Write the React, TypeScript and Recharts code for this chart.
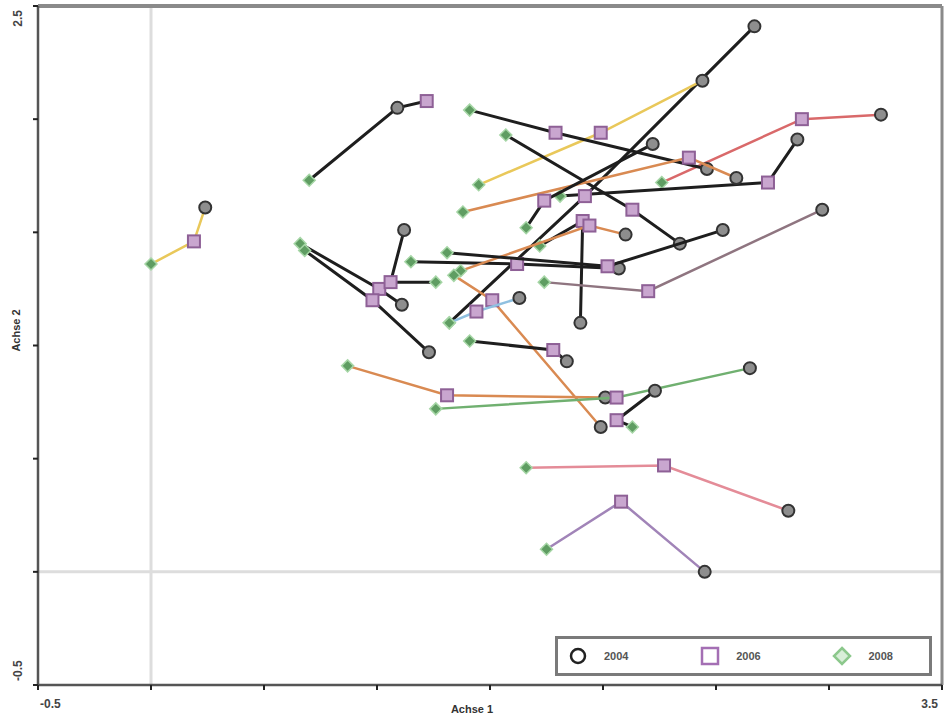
import React from 'react';
import { ScatterChart, Scatter, XAxis, YAxis, ReferenceLine } from 'recharts';

// Trajectories of objects: position in 2004, 2006 and 2008
const lineColors = [
  '#e9c85a', '#1e1e1e', '#d9696a', '#1e1e1e', '#1e1e1e', '#e9c85a', '#1e1e1e', '#1e1e1e',
  '#d98a52', '#1e1e1e', '#1e1e1e', '#1e1e1e', '#1e1e1e', '#1e1e1e', '#1e1e1e', '#8f7580',
  '#d98a52', '#1e1e1e', '#d98a52', '#1e1e1e', '#d98a52', '#70b070', '#1e1e1e', '#e48c98',
  '#a184b8', '#8fc0e0',
];
const x2004 = [0.24, 1.09, 3.23, 2.86, 2.67, 2.44, 2.46, 2.34, 2.59, 2.22, 1.11, 1.23, 1.12, 2.07, 1.90, 2.97, 2.10, 2.53, 1.99, 1.84, 2.01, 2.65, 2.23, 2.82, 2.45, 1.63];
const y2004 = [1.61, 2.05, 2.02, 1.91, 2.41, 2.17, 1.78, 1.45, 1.74, 1.89, 1.18, 0.97, 1.51, 1.34, 1.10, 1.60, 1.49, 1.51, 0.64, 0.93, 0.77, 0.90, 0.80, 0.27, 0.00, 1.21];
const x2006 = [0.19, 1.22, 2.88, 2.73, 1.92, 1.99, 1.79, 2.13, 2.38, 1.74, 1.01, 0.98, 1.06, 1.62, 1.91, 2.20, 1.94, 2.02, 1.51, 1.78, 1.31, 2.06, 2.06, 2.27, 2.08, 1.44];
const y2006 = [1.46, 2.08, 2.00, 1.72, 1.66, 1.94, 1.94, 1.60, 1.83, 1.64, 1.25, 1.20, 1.28, 1.36, 1.55, 1.24, 1.53, 1.35, 1.20, 0.98, 0.78, 0.77, 0.67, 0.47, 0.31, 1.15];
const x2008 = [0.00, 0.70, 2.26, 1.81, 1.32, 1.45, 1.41, 1.57, 1.38, 1.66, 0.66, 0.68, 1.26, 1.15, 1.72, 1.74, 1.37, 1.31, 1.34, 1.41, 0.87, 1.26, 2.13, 1.66, 1.75, 1.32];
const y2008 = [1.36, 1.73, 1.72, 1.66, 1.10, 1.71, 2.04, 1.93, 1.59, 1.52, 1.45, 1.42, 1.28, 1.37, 1.44, 1.28, 1.33, 1.41, 1.31, 1.02, 0.91, 0.72, 0.64, 0.46, 0.10, 1.10];
// order in which the line joins the three years
const pathOrder = [
  'CSG', 'GCS', 'CSG', 'CSG', 'CSG', 'CSG', 'CSG', 'CSG', 'CSG', 'CSG', 'CSG', 'CSG', 'CSG',
  'CSG', 'CSG', 'CSG', 'CSG', 'CSG', 'CSG', 'CSG', 'CSG', 'CSG', 'CSG', 'CSG', 'CSG', 'CSG',
];
const legendYears = ['2004', '2006', '2008'];
const xTicks = [-0.5, 0, 0.5, 1, 1.5, 2, 2.5, 3, 3.5];
const yTicks = [-0.5, 0, 0.5, 1, 1.5, 2, 2.5];
const xTitle = 'Achse 1';
const yTitle = 'Achse 2';

type Pt = { x: number; y: number; year: number };

const trajectories = lineColors.map((color, i) => {
  const pts: Record<string, Pt> = {
    C: { x: x2004[i], y: y2004[i], year: 2004 },
    S: { x: x2006[i], y: y2006[i], year: 2006 },
    G: { x: x2008[i], y: y2008[i], year: 2008 },
  };
  return { color, data: pathOrder[i].split('').map((k) => pts[k]) };
});

const FONT = '"Liberation Sans", Arial, sans-serif';

const Marker = (props: any) => {
  const { cx, cy, payload } = props;
  if (cx == null || cy == null) return null;
  if (payload.year === 2004) {
    return <circle cx={cx} cy={cy} r={6} fill="#8e8e8e" stroke="#333" strokeWidth={2} />;
  }
  if (payload.year === 2006) {
    return <rect x={cx - 6} y={cy - 6} width={12} height={12} fill="#c9a6cf" stroke="#8e6096" strokeWidth={2} />;
  }
  return (
    <polygon
      points={`${cx},${cy - 6} ${cx + 6},${cy} ${cx},${cy + 6} ${cx - 6},${cy}`}
      fill="#5f9d62"
      stroke="#a6d6a6"
      strokeWidth={1.5}
    />
  );
};

const XTick = (props: any) => {
  const { x, payload, index } = props;
  const v = payload.value;
  if (v !== -0.5 && v !== 3.5) return null;
  const anchor = index === 0 ? 'start' : 'end';
  const tx = index === 0 ? x + 2 : x - 4;
  return (
    <text x={tx} y={708} textAnchor={anchor} fontFamily={FONT} fontWeight="bold" fontSize={12} fill="#444">
      {String(v)}
    </text>
  );
};

const YTick = (props: any) => {
  const { y, payload, index } = props;
  const v = payload.value;
  if (v !== -0.5 && v !== 2.5) return null;
  const ty = index === 0 ? y - 4 : y + 4;
  const anchor = index === 0 ? 'start' : 'end';
  return (
    <text
      x={22}
      y={ty}
      transform={`rotate(-90, 22, ${ty})`}
      textAnchor={anchor}
      fontFamily={FONT}
      fontWeight="bold"
      fontSize={12}
      fill="#444"
    >
      {String(v)}
    </text>
  );
};

const XTitle = (props: any) => {
  const vb = props.viewBox || {};
  const cx = vb.x + vb.width / 2 - 18;
  return (
    <text x={cx} y={713} textAnchor="middle" fontFamily={FONT} fontWeight="bold" fontSize={11} fill="#333">
      {xTitle}
    </text>
  );
};

const YTitle = (props: any) => {
  const vb = props.viewBox || {};
  const cy = vb.y + vb.height / 2 - 15;
  return (
    <text
      x={20}
      y={cy}
      transform={`rotate(-90, 20, ${cy})`}
      textAnchor="middle"
      fontFamily={FONT}
      fontWeight="bold"
      fontSize={11}
      fill="#333"
    >
      {yTitle}
    </text>
  );
};

const LegendIcon = ({ i }: { i: number }) => {
  if (i === 0) {
    return (
      <svg width={20} height={20}>
        <circle cx={10} cy={10} r={7} fill="#fff" stroke="#222" strokeWidth={2.5} />
      </svg>
    );
  }
  if (i === 1) {
    return (
      <svg width={20} height={20}>
        <rect x={2} y={2} width={16} height={16} fill="#fff" stroke="#a46fb4" strokeWidth={2.5} />
      </svg>
    );
  }
  return (
    <svg width={20} height={20}>
      <polygon points="10,2 18,10 10,18 2,10" fill="#d8eed8" stroke="#8cc88c" strokeWidth={2.5} />
    </svg>
  );
};

export default function App() {
  return (
    <div style={{ position: 'absolute', left: 0, top: 0, width: 946, height: 718, background: '#fff' }}>
      <ScatterChart width={946} height={718} margin={{ top: 6, right: 4, bottom: 0, left: 0 }}>
        <XAxis
          type="number"
          dataKey="x"
          domain={[-0.5, 3.5]}
          ticks={xTicks}
          interval={0}
          allowDataOverflow
          height={33}
          tick={XTick}
          tickSize={5}
          tickLine={{ stroke: '#222', strokeWidth: 2 }}
          axisLine={{ stroke: '#555', strokeWidth: 2.5 }}
          label={XTitle}
        />
        <YAxis
          type="number"
          dataKey="y"
          domain={[-0.5, 2.5]}
          ticks={yTicks}
          interval={0}
          allowDataOverflow
          width={38}
          tick={YTick}
          tickSize={5}
          tickLine={{ stroke: '#222', strokeWidth: 2 }}
          axisLine={{ stroke: '#555', strokeWidth: 2.5 }}
          label={YTitle}
        />
        <ReferenceLine x={0} stroke="#dddddd" strokeWidth={3} />
        <ReferenceLine y={0} stroke="#dddddd" strokeWidth={3} />
        <ReferenceLine y={2.5} stroke="#8a8a8a" strokeWidth={4} />
        <ReferenceLine x={3.5} stroke="#8a8a8a" strokeWidth={3} />
        {trajectories.map((t, i) => (
          <Scatter
            key={i}
            data={t.data}
            line={{ stroke: t.color, strokeWidth: t.color === '#1e1e1e' ? 3 : 2.5 }}
            shape={Marker}
            isAnimationActive={false}
          />
        ))}
      </ScatterChart>
      <div
        style={{
          position: 'absolute',
          left: 555,
          top: 636,
          width: 377,
          height: 40,
          boxSizing: 'border-box',
          border: '3px solid #7a7a7a',
          background: '#fff',
          display: 'flex',
          alignItems: 'center',
          fontFamily: FONT,
          fontWeight: 'bold',
          fontSize: 11,
          color: '#555',
        }}
      >
        {legendYears.map((yr, i) => (
          <div key={yr} style={{ display: 'flex', alignItems: 'center', width: i === 2 ? 100 : 137, paddingLeft: i === 0 ? 10 : 0 }}>
            <LegendIcon i={i} />
            <span style={{ marginLeft: 16 }}>{yr}</span>
          </div>
        ))}
      </div>
    </div>
  );
}
